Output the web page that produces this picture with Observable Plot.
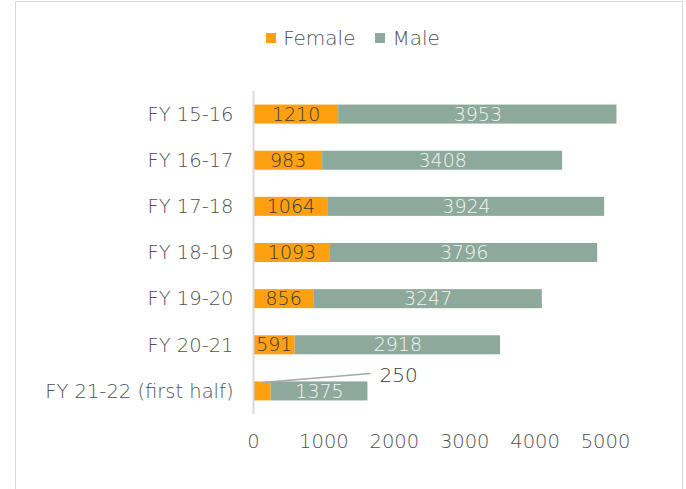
<!DOCTYPE html>
<html>
<head>
<meta charset="utf-8">
<script src="https://cdn.jsdelivr.net/npm/d3@7"></script>
<script src="https://cdn.jsdelivr.net/npm/@observablehq/plot@0.6"></script>
<style>
  html, body { margin: 0; padding: 0; background: #fff; overflow: hidden; }
  #wrap { position: relative; width: 686px; height: 489px; font-family: "DejaVu Sans", sans-serif; font-weight: 200; }
  #frame { position: absolute; left: 15px; top: 1px; width: 666px; height: 600px; border: 1.5px solid #d9d9d9; pointer-events: none; }
  #legend { height: 48px; padding-top: 14px; display: flex; justify-content: center; align-items: center; padding-left: 20px; box-sizing: content-box; }
  .item { display: flex; align-items: center; font-size: 20px; color: #4f4f4f; margin: 0 10px; }
  .sw { width: 10px; height: 10px; margin-right: 7px; }
  svg { display: block; }
  svg text { font-weight: 200; }
</style>
</head>
<body>
<div id="wrap">
  <div id="legend"></div>
  <div id="chart"></div>
  <div id="frame"></div>
</div>
<script>
const categories = ["FY 15-16", "FY 16-17", "FY 17-18", "FY 18-19", "FY 19-20", "FY 20-21", "FY 21-22 (first half)"];
const female = [1210, 983, 1064, 1093, 856, 591, 250];
const male = [3953, 3408, 3924, 3796, 3247, 2918, 1375];
const xTicks = [0, 1000, 2000, 3000, 4000, 5000];
const seriesNames = ["Female", "Male"];
const seriesColors = ["#FFA010", "#8DA99B"];
// callout for the small female value of the last row (data units: x, row offset)
const calloutLineX = [128, 1662];
const calloutLineDy = [0.195, 0.39];
const calloutTextX = 1790;
const calloutTextDy = 0.35;

const legend = document.getElementById("legend");
seriesNames.forEach((n, k) => {
  const it = document.createElement("div");
  it.className = "item";
  it.innerHTML = `<span class="sw" style="background:${seriesColors[k]}"></span><span>${n}</span>`;
  legend.appendChild(it);
});

const rows = categories.map((c, i) => ({i, cat: c, female: female[i], male: male[i]}));
const half = 0.206;
const last = rows.length - 1;

const chart = Plot.plot({
  width: 686,
  height: 427,
  marginLeft: 253,
  marginRight: 45.8,
  marginTop: 29,
  marginBottom: 75,
  style: {fontFamily: "DejaVu Sans, sans-serif", fontSize: "19.5px", color: "#4f4f4f", background: "transparent"},
  x: {domain: [0, 5500], ticks: xTicks, tickSize: 0, tickPadding: 20, label: null, tickFormat: d => String(d)},
  y: {domain: [-0.5, 6.5], reverse: true, ticks: d3.range(categories.length), tickFormat: i => categories[i], tickSize: 0, tickPadding: 20, label: null},
  marks: [
    Plot.rectX(rows, {x1: 0, x2: d => d.female, y1: d => d.i - half, y2: d => d.i + half, fill: seriesColors[0]}),
    Plot.rectX(rows, {x1: d => d.female, x2: d => d.female + d.male, y1: d => d.i - half, y2: d => d.i + half, fill: seriesColors[1]}),
    Plot.ruleX([0], {stroke: "#d9d9d9", strokeWidth: 2}),
    Plot.text(rows.filter(d => d.i !== last), {x: d => d.female / 2, y: d => d.i, text: d => String(d.female), fill: "#3a3a3a", fontSize: 19}),
    Plot.text(rows, {x: d => d.female + d.male / 2, y: d => d.i, text: d => String(d.male), fill: "#f4f4f4", fontSize: 19}),
    Plot.link([rows[last]], {x1: calloutLineX[0], x2: calloutLineX[1], y1: d => d.i - calloutLineDy[0], y2: d => d.i - calloutLineDy[1], stroke: "#a6a6a6", strokeWidth: 1.5}),
    Plot.text([rows[last]], {x: calloutTextX, y: d => d.i - calloutTextDy, text: d => String(d.female), textAnchor: "start", fill: "#3a3a3a", fontSize: 20})
  ]
});
document.getElementById("chart").appendChild(chart);
</script>
</body>
</html>
